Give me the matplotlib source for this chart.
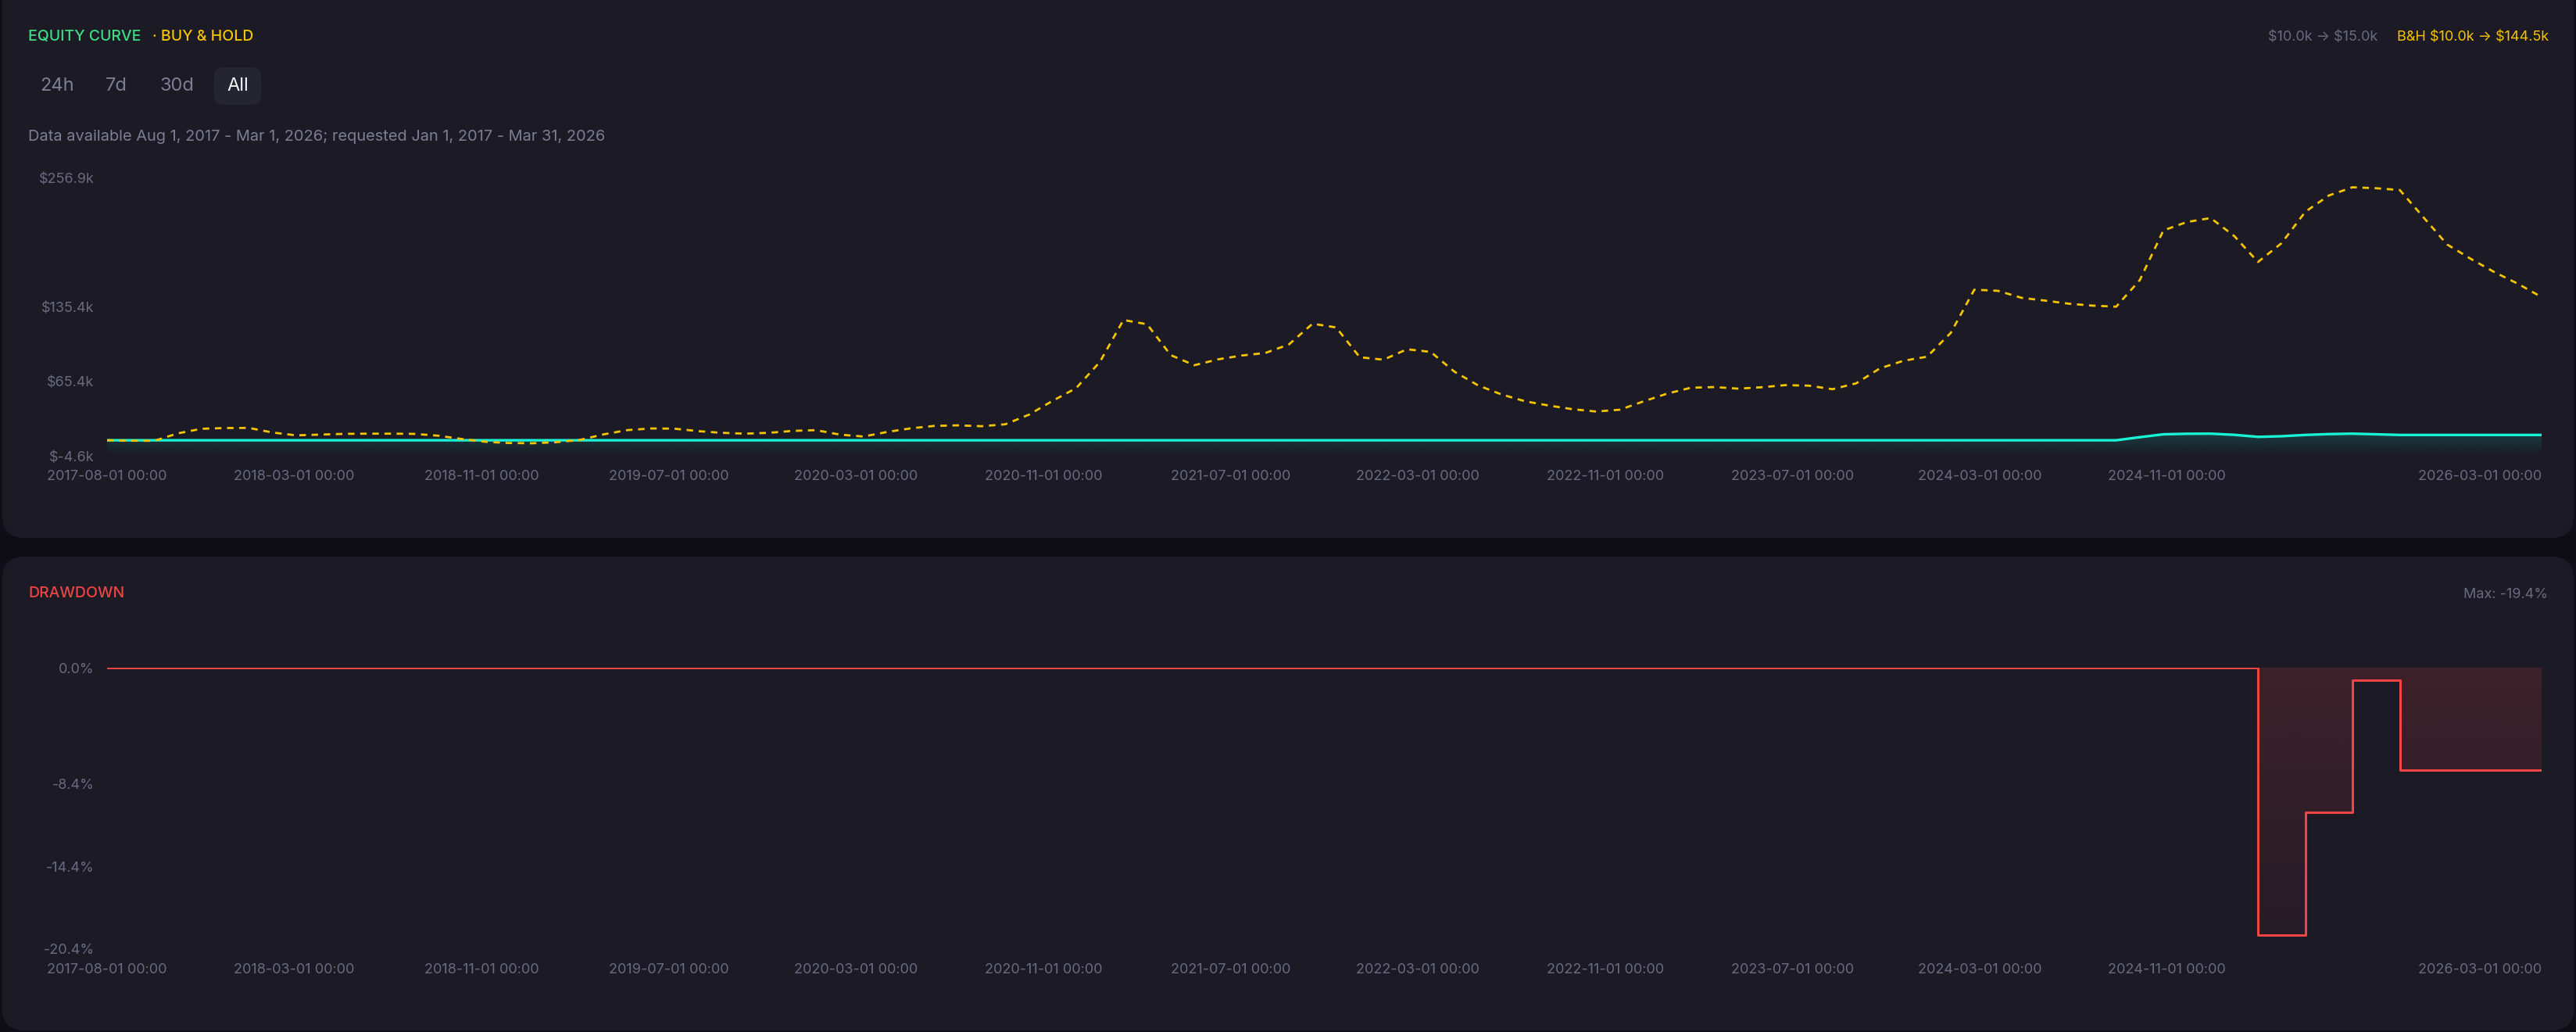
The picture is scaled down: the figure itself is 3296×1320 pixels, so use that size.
import numpy as np
import pandas as pd
import matplotlib
matplotlib.use('Agg')
import matplotlib.pyplot as plt
from matplotlib.patches import FancyBboxPatch
from matplotlib.transforms import IdentityTransform

##################################################
## canvas + colours
##################################################
W, H = 3296, 1320
DPI = 100

BG = '#0f0e17'
PANEL = '#1b1a25'
BTN = '#252431'
TEAL = '#19f2d4'
YELLOW = '#f5c400'
GREEN = '#3fdc85'
RED = '#ef4444'
GRAY = '#6b6a80'
TEXT2 = '#7e7d94'

plt.rcParams['font.family'] = ['Inter', 'DejaVu Sans']
plt.rcParams['text.parse_math'] = False

##################################################
## data (values in $k, drawdown in %)
##################################################
months = pd.date_range('2017-08-01', '2026-03-01', freq='MS')

buy_hold_k = [
    10.0, 9.6, 9.5, 16.5, 20.8, 21.5, 21.6, 17.3, 14.6, 15.3,
    16.0, 16.2, 16.2, 16.0, 14.3, 11.2, 8.6, 7.4, 7.2, 8.2,
    10.3, 15.5, 19.5, 21.1, 20.9, 18.6, 17.0, 16.2, 17.0, 18.8,
    19.5, 15.3, 13.5, 17.8, 21.2, 23.5, 24.0, 23.2, 25.0, 34.0,
    47.0, 59.0, 83.5, 123.0, 119.0, 90.0, 80.5, 86.0, 89.6, 92.0,
    100.0, 119.5, 116.0, 88.0, 85.7, 95.5, 93.0, 74.5, 61.6, 53.0,
    46.6, 42.6, 39.2, 37.0, 38.7, 46.5, 53.8, 59.3, 60.0, 58.5,
    59.8, 61.8, 61.3, 58.0, 63.5, 77.5, 84.7, 88.5, 110.8, 151.5,
    150.4, 143.8, 141.2, 138.3, 136.5, 135.5, 160.5, 207.2, 215.1, 218.8,
    201.8, 177.5, 195.2, 224.6, 240.0, 247.7, 246.8, 245.1, 219.5, 194.0,
    180.5, 168.0, 157.0, 144.5,
]

strategy_k = [10.0] * 86 + [
    12.9, 15.6, 16.1, 16.2, 15.1, 13.2, 13.8, 15.0, 15.8, 16.2,
    15.6, 15.0, 15.0, 15.0, 15.0, 15.0, 15.0, 15.0,
]

drawdown_pct = [0.0] * 91 + [
    -19.4, -19.4, -10.5, -10.5, -0.9, -0.9,
    -7.4, -7.4, -7.4, -7.4, -7.4, -7.4, -7.4,
]

x_tick_labels = [
    '2017-08-01 00:00', '2018-03-01 00:00', '2018-11-01 00:00',
    '2019-07-01 00:00', '2020-03-01 00:00', '2020-11-01 00:00',
    '2021-07-01 00:00', '2022-03-01 00:00', '2022-11-01 00:00',
    '2023-07-01 00:00', '2024-03-01 00:00', '2024-11-01 00:00',
    '2026-03-01 00:00',
]

eq_y_ticks = [-4.6, 65.4, 135.4, 256.9]
eq_y_labels = ['$-4.6k', '$65.4k', '$135.4k', '$256.9k']
dd_y_ticks = [-20.4, -14.4, -8.4, 0.0]
dd_y_labels = ['-20.4%', '-14.4%', '-8.4%', '0.0%']

ranges = ['24h', '7d', '30d', 'All']


##################################################
## helpers
##################################################
def fx(x):
    return x / W


def fy(y):
    return 1 - y / H


def panel(x0, y0, x1, y1, r, color):
    p = FancyBboxPatch((x0, H - y1), x1 - x0, y1 - y0,
                       boxstyle='round,pad=0,rounding_size=%d' % r,
                       transform=IdentityTransform(), facecolor=color,
                       edgecolor='none', zorder=0)
    fig.add_artist(p)


def gradient_fill(ax, x, y, base, color, a_top, a_bot, step=None):
    poly = ax.fill_between(x, y, base, color='none', step=step)
    rgb = matplotlib.colors.to_rgb(color)
    img = np.zeros((256, 1, 4))
    img[:, 0, :3] = rgb
    img[:, 0, 3] = np.linspace(a_top, a_bot, 256)
    lo, hi = min(min(y), base), max(max(y), base)
    im = ax.imshow(img, extent=[x[0], x[-1], lo, hi], aspect='auto',
                   origin='upper', zorder=1, interpolation='bilinear')
    im.set_clip_path(poly.get_paths()[0], transform=ax.transData)


def style_axis(ax, yticks, ylabels):
    ax.set_facecolor('none')
    for s in ax.spines.values():
        s.set_visible(False)
    n = len(months) - 1
    pos = [k * n / 13 for k in range(12)] + [n]
    ax.set_xticks(pos)
    ax.set_xticklabels(x_tick_labels)
    ax.get_xticklabels()[-1].set_ha('right')
    ax.set_yticks(yticks)
    ax.set_yticklabels(ylabels)
    ax.tick_params(axis='x', length=0, pad=13, labelsize=13, colors=GRAY)
    ax.tick_params(axis='y', length=0, pad=12, labelsize=13, colors=GRAY)
    ax.set_xlim(0, n)


##################################################
## figure
##################################################
fig = plt.figure(figsize=(W / DPI, H / DPI), dpi=DPI, facecolor=BG)

panel(3, -30, 3293, 688, 28, PANEL)
panel(3, 712, 3293, 1318, 28, PANEL)
panel(274, 86, 334, 134, 11, BTN)

x = np.arange(len(months))

# equity curve
ax1 = fig.add_axes([fx(137), fy(583), fx(3252) - fx(137), fy(227) - fy(583)])
gradient_fill(ax1, x, strategy_k, eq_y_ticks[0], TEAL, 0.16, 0.0)
ax1.plot(x, strategy_k, color=TEAL, lw=2.4, zorder=3, solid_capstyle='butt')
ax1.plot(x, buy_hold_k, color=YELLOW, lw=2.0, dashes=(3, 2.6), zorder=4)
style_axis(ax1, eq_y_ticks, eq_y_labels)
ax1.set_ylim(eq_y_ticks[0], eq_y_ticks[-1])

# drawdown
ax2 = fig.add_axes([fx(137), fy(1214), fx(3252) - fx(137), fy(854) - fy(1214)])
gradient_fill(ax2, x, drawdown_pct, 0.0, RED, 0.17, 0.05, step='post')
ax2.step(x, drawdown_pct, where='post', color=RED, lw=2.2, zorder=3)
style_axis(ax2, dd_y_ticks, dd_y_labels)
ax2.set_ylim(dd_y_ticks[0], dd_y_ticks[-1] + 0.02)

##################################################
## header texts
##################################################
fig.text(fx(36), fy(47), 'EQUITY CURVE', color=GREEN, fontsize=14,
         va='center', ha='left', fontweight='medium')
fig.text(fx(195), fy(47), '· BUY & HOLD', color=YELLOW, fontsize=14,
         va='center', ha='left', fontweight='medium')
fig.text(fx(3042), fy(47), '$10.0k → $15.0k', color=GRAY, fontsize=13,
         va='center', ha='right')
fig.text(fx(3261), fy(47), 'B&H $10.0k → $144.5k', color=YELLOW, fontsize=13,
         va='center', ha='right')

for lab, cx in zip(ranges, [73, 149, 226, 304]):
    fig.text(fx(cx), fy(110), lab, fontsize=17, va='center', ha='center',
             color='#f4f4f8' if lab == 'All' else TEXT2)

fig.text(fx(36), fy(175), 'Data available Aug 1, 2017 - Mar 1, 2026; '
         'requested Jan 1, 2017 - Mar 31, 2026', color=TEXT2, fontsize=14.4,
         va='center', ha='left')

fig.text(fx(36), fy(759), 'DRAWDOWN', color=RED, fontsize=14,
         va='center', ha='left', fontweight='medium')
fig.text(fx(3260), fy(760), 'Max: -19.4%', color=GRAY, fontsize=13,
         va='center', ha='right')

fig.savefig('out.png', dpi=DPI, facecolor=BG)
